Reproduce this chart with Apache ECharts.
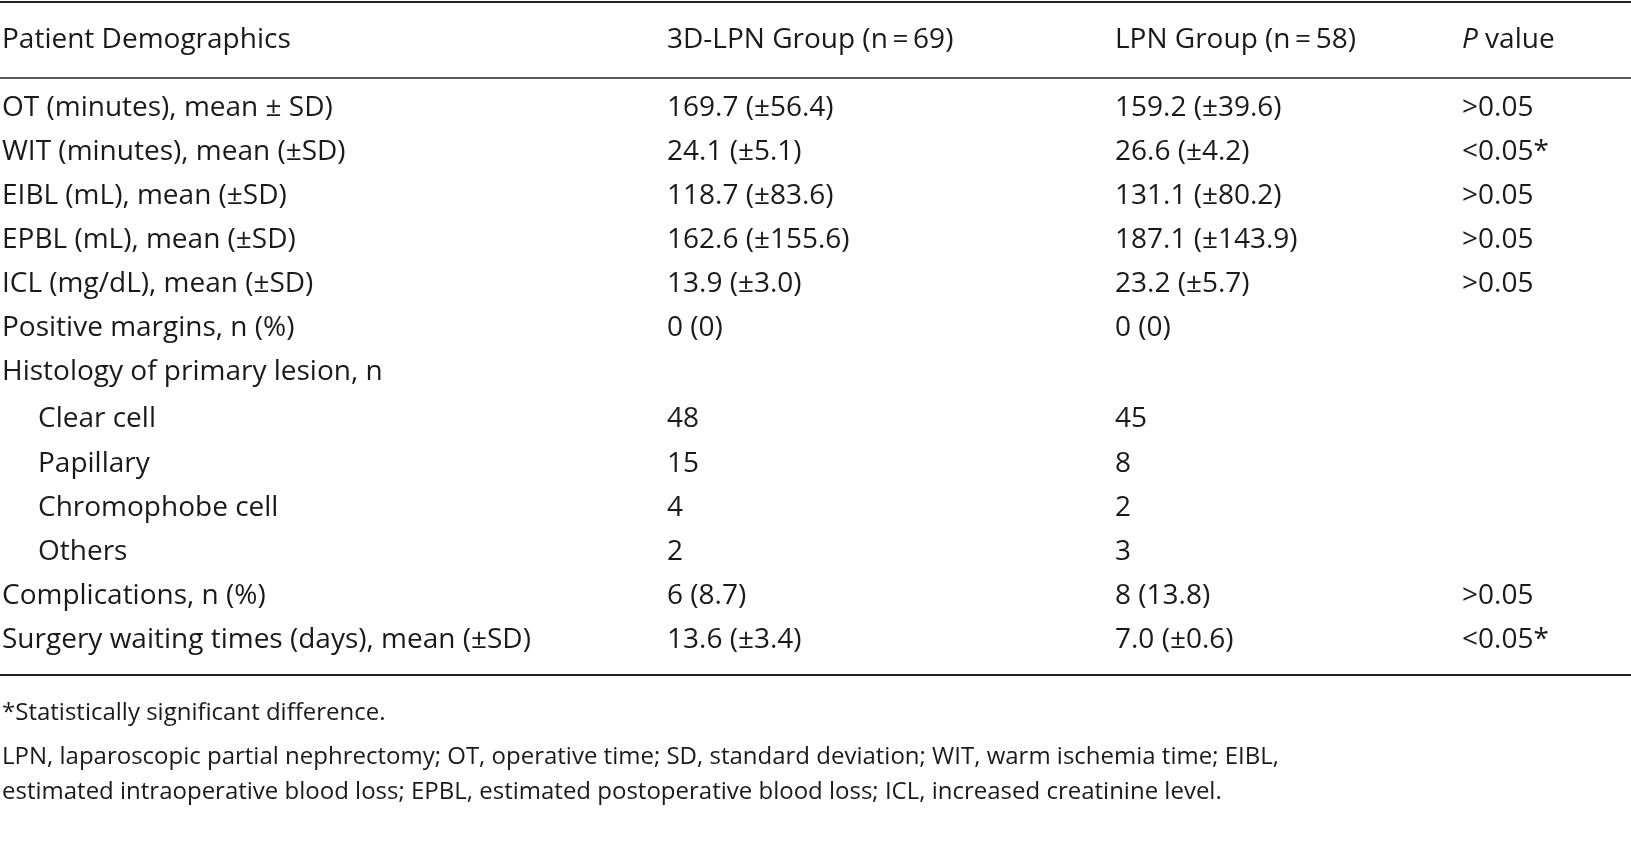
<!DOCTYPE html>
<html>
<head>
<meta charset="utf-8">
<script src="https://cdn.jsdelivr.net/npm/echarts@6/dist/echarts.min.js"></script>
<style>html,body{margin:0;padding:0;background:#fff}#main{width:1631px;height:843px}</style>
</head>
<body>
<div id="main"></div>
<script>
var chart = echarts.init(document.getElementById('main'));
var font = '"Open Sans"';
var fs = 28;
var cols = [2, 667, 1115, 1462];
var header = ['Patient Demographics', '3D-LPN Group (n\u2009=\u200969)', 'LPN Group (n\u2009=\u200958)', '{i|P} value'];
var rows = [
    ['OT (minutes), mean \u00b1 SD)', '169.7 (\u00b156.4)', '159.2 (\u00b139.6)', '>0.05'],
    ['WIT (minutes), mean (\u00b1SD)', '24.1 (\u00b15.1)', '26.6 (\u00b14.2)', '<0.05*'],
    ['EIBL (mL), mean (\u00b1SD)', '118.7 (\u00b183.6)', '131.1 (\u00b180.2)', '>0.05'],
    ['EPBL (mL), mean (\u00b1SD)', '162.6 (\u00b1155.6)', '187.1 (\u00b1143.9)', '>0.05'],
    ['ICL (mg/dL), mean (\u00b1SD)', '13.9 (\u00b13.0)', '23.2 (\u00b15.7)', '>0.05'],
    ['Positive margins, n (%)', '0 (0)', '0 (0)', ''],
    ['Histology of primary lesion, n', '', '', ''],
    ['   Clear cell', '48', '45', ''],
    ['   Papillary', '15', '8', ''],
    ['   Chromophobe cell', '4', '2', ''],
    ['   Others', '2', '3', ''],
    ['Complications, n (%)', '6 (8.7)', '8 (13.8)', '>0.05'],
    ['Surgery waiting times (days), mean (\u00b1SD)', '13.6 (\u00b13.4)', '7.0 (\u00b10.6)', '<0.05*']
];
var rowY = [108, 152, 196, 240, 284, 328, 372, 419, 464, 508, 552, 596, 640];
var notes = [
    ['*Statistically significant difference.', 713],
    ['LPN, laparoscopic partial nephrectomy; OT, operative time; SD, standard deviation; WIT, warm ischemia time; EIBL,', 757],
    ['estimated intraoperative blood loss; EPBL, estimated postoperative blood loss; ICL, increased creatinine level.', 792]
];

var els = [];
function txt(x, y, s, size) {
    els.push({
        type: 'text', x: x + (s.indexOf('   ') === 0 ? 36 : 0), y: y,
        style: {
            text: s.replace(/^   /, ''), fill: '#1a1a1a', font: size + 'px ' + font,
            verticalAlign: 'middle', align: 'left',
            rich: { i: { fontStyle: 'italic', fontSize: size, fontFamily: 'Open Sans', fill: '#1a1a1a' } }
        }
    });
}
function rule(y, w) {
    els.push({ type: 'line', shape: { x1: 0, y1: y, x2: 1631, y2: y }, style: { stroke: '#222', lineWidth: w } });
}
rule(2, 2); rule(78, 1.5); rule(675, 2);
for (var c = 0; c < 4; c++) txt(cols[c], 40, header[c], fs);
for (var r = 0; r < rows.length; r++)
    for (var c = 0; c < 4; c++)
        if (rows[r][c]) txt(cols[c], rowY[r], rows[r][c], fs);
for (var n = 0; n < notes.length; n++) txt(2, notes[n][1], notes[n][0], 24);

chart.setOption({ animation: false, graphic: { elements: els } });
</script>
</body>
</html>
